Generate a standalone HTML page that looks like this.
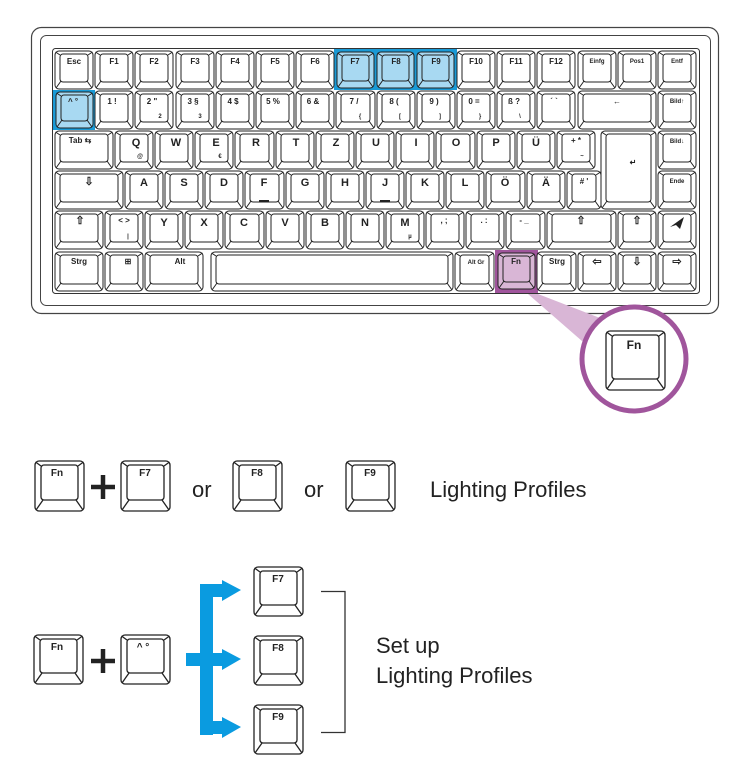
<!DOCTYPE html>
<html><head><meta charset="utf-8"><style>
html,body{margin:0;padding:0;background:#fff;}
svg{display:block}
.t{font-family:"Liberation Sans",sans-serif;font-weight:bold;fill:#222;text-anchor:middle}
.s{font-size:8px}.m{font-size:11px}.x{font-size:6px}
.n{font-family:"Liberation Sans",sans-serif;font-size:22px;fill:#222}
.kk rect,.kk line{stroke:#222;stroke-width:1}
.KK rect,.KK line{stroke:#222;stroke-width:1.3}
.o{width:calc(100% - 2px);height:calc(100% - 2px)}
.i{width:calc(100% - 12px);height:calc(100% - 12px)}
</style></head><body>
<svg width="744" height="759" viewBox="0 0 744 759" xmlns="http://www.w3.org/2000/svg">
<defs>
<symbol id="k" overflow="visible" class="kk">
<rect x="1" y="1" class="o" rx="4"/>
<rect x="6" y="4" class="i" rx="3"/>
<line x1="1.5" y1="2" x2="6" y2="5"/>
<svg x="100%" overflow="visible"><line x1="-1.5" y1="2" x2="-6" y2="5"/></svg>
<svg y="100%" overflow="visible"><line x1="2" y1="-2" x2="7" y2="-9"/></svg>
<svg x="100%" y="100%" overflow="visible"><line x1="-2" y1="-2" x2="-7" y2="-9"/></svg>
</symbol>
<symbol id="K" overflow="visible" class="KK">
<rect x="1" y="1" class="o" rx="4"/>
<rect x="7" y="5" class="i" style="width:calc(100% - 14px);height:calc(100% - 17px)" rx="3"/>
<line x1="1.5" y1="2" x2="7" y2="6"/>
<svg x="100%" overflow="visible"><line x1="-1.5" y1="2" x2="-7" y2="6"/></svg>
<svg y="100%" overflow="visible"><line x1="2" y1="-2" x2="9" y2="-12"/></svg>
<svg x="100%" y="100%" overflow="visible"><line x1="-2" y1="-2" x2="-9" y2="-12"/></svg>
</symbol>
</defs>
<!-- frame -->
<rect x="31.5" y="27.5" width="687" height="286" rx="10" fill="#fff" stroke="#444" stroke-width="1.2"/>
<rect x="40.5" y="35.5" width="670" height="270" rx="6" fill="none" stroke="#444" stroke-width="1"/>
<rect x="52.5" y="48.5" width="647" height="245" rx="3" fill="none" stroke="#333" stroke-width="1"/>
<!-- highlights -->
<rect x="334" y="49" width="123" height="41" fill="#1a9ad6"/>
<rect x="53" y="90" width="42" height="40" fill="#1a9ad6"/>
<rect x="495" y="250" width="43" height="43" fill="#a0559c"/>
<g fill="#fff">
<use href="#k" x="54" y="50" width="40" height="40"/><use href="#k" x="94" y="50" width="40" height="40"/><use href="#k" x="134" y="50" width="40" height="40"/><use href="#k" x="175" y="50" width="40" height="40"/><use href="#k" x="215" y="50" width="40" height="40"/><use href="#k" x="255" y="50" width="40" height="40"/><use href="#k" x="295" y="50" width="40" height="40"/>
<use href="#k" x="336" y="51" width="39" height="38" fill="#a8d9f2"/><use href="#k" x="376" y="51" width="39" height="38" fill="#a8d9f2"/><use href="#k" x="416" y="51" width="39" height="38" fill="#a8d9f2"/>
<use href="#k" x="456" y="50" width="40" height="40"/><use href="#k" x="496" y="50" width="40" height="40"/><use href="#k" x="536" y="50" width="40" height="40"/><use href="#k" x="577" y="50" width="40" height="40"/><use href="#k" x="617" y="50" width="40" height="40"/><use href="#k" x="657" y="50" width="40" height="40"/>
<use href="#k" x="55" y="91" width="39" height="38" fill="#a8d9f2"/>
<use href="#k" x="94" y="90" width="40" height="40"/><use href="#k" x="134" y="90" width="40" height="40"/><use href="#k" x="175" y="90" width="40" height="40"/><use href="#k" x="215" y="90" width="40" height="40"/><use href="#k" x="255" y="90" width="40" height="40"/><use href="#k" x="295" y="90" width="40" height="40"/><use href="#k" x="335" y="90" width="41" height="40"/><use href="#k" x="376" y="90" width="40" height="40"/><use href="#k" x="416" y="90" width="40" height="40"/><use href="#k" x="456" y="90" width="40" height="40"/><use href="#k" x="496" y="90" width="40" height="40"/><use href="#k" x="536" y="90" width="40" height="40"/><use href="#k" x="577" y="90" width="80" height="40"/><use href="#k" x="657" y="90" width="40" height="40"/>
<use href="#k" x="54" y="130" width="60" height="40"/><use href="#k" x="114" y="130" width="40" height="40"/><use href="#k" x="154" y="130" width="40" height="40"/><use href="#k" x="194" y="130" width="40" height="40"/><use href="#k" x="234" y="130" width="41" height="40"/><use href="#k" x="275" y="130" width="40" height="40"/><use href="#k" x="315" y="130" width="40" height="40"/><use href="#k" x="355" y="130" width="40" height="40"/><use href="#k" x="395" y="130" width="40" height="40"/><use href="#k" x="435" y="130" width="41" height="40"/><use href="#k" x="476" y="130" width="40" height="40"/><use href="#k" x="516" y="130" width="40" height="40"/><use href="#k" x="556" y="130" width="40" height="40"/><use href="#k" x="600" y="130" width="57" height="80"/><use href="#k" x="657" y="130" width="40" height="40"/>
<use href="#k" x="54" y="170" width="70" height="40"/><use href="#k" x="124" y="170" width="40" height="40"/><use href="#k" x="164" y="170" width="40" height="40"/><use href="#k" x="204" y="170" width="40" height="40"/><use href="#k" x="244" y="170" width="41" height="40"/><use href="#k" x="285" y="170" width="40" height="40"/><use href="#k" x="325" y="170" width="40" height="40"/><use href="#k" x="365" y="170" width="40" height="40"/><use href="#k" x="405" y="170" width="40" height="40"/><use href="#k" x="445" y="170" width="40" height="40"/><use href="#k" x="485" y="170" width="41" height="40"/><use href="#k" x="526" y="170" width="40" height="40"/><use href="#k" x="566" y="170" width="36" height="40"/><use href="#k" x="657" y="170" width="40" height="40"/>
<use href="#k" x="54" y="210" width="50" height="40"/><use href="#k" x="104" y="210" width="40" height="40"/><use href="#k" x="144" y="210" width="40" height="40"/><use href="#k" x="184" y="210" width="40" height="40"/><use href="#k" x="224" y="210" width="41" height="40"/><use href="#k" x="265" y="210" width="40" height="40"/><use href="#k" x="305" y="210" width="40" height="40"/><use href="#k" x="345" y="210" width="40" height="40"/><use href="#k" x="385" y="210" width="40" height="40"/><use href="#k" x="425" y="210" width="40" height="40"/><use href="#k" x="465" y="210" width="40" height="40"/><use href="#k" x="505" y="210" width="41" height="40"/><use href="#k" x="546" y="210" width="71" height="40"/><use href="#k" x="617" y="210" width="40" height="40"/><use href="#k" x="657" y="210" width="40" height="40"/>
<use href="#k" x="54" y="251" width="50" height="41"/><use href="#k" x="104" y="251" width="40" height="41"/><use href="#k" x="144" y="251" width="60" height="41"/><use href="#k" x="210" y="251" width="244" height="41"/><use href="#k" x="454" y="251" width="41" height="41"/>
<use href="#k" x="497" y="252" width="39" height="38" fill="#d9b6d6"/>
<use href="#k" x="536" y="251" width="41" height="41"/><use href="#k" x="577" y="251" width="40" height="41"/><use href="#k" x="617" y="251" width="40" height="41"/><use href="#k" x="657" y="251" width="40" height="41"/>
</g>
<g class="t s">
<text x="74" y="64">Esc</text><text x="114" y="64">F1</text><text x="154" y="64">F2</text><text x="195" y="64">F3</text><text x="235" y="64">F4</text><text x="275" y="64">F5</text><text x="315" y="64">F6</text><text x="355" y="64">F7</text><text x="396" y="64">F8</text><text x="436" y="64">F9</text><text x="476" y="64">F10</text><text x="516" y="64">F11</text><text x="556" y="64">F12</text>
<text x="597" y="63" class="x">Einfg</text><text x="637" y="63" class="x">Pos1</text><text x="677" y="63" class="x">Entf</text>
<text x="73" y="104">^ °</text><text x="112" y="104">1 !</text><text x="152" y="104">2 "</text><text x="193" y="104">3 §</text><text x="233" y="104">4 $</text><text x="273" y="104">5 %</text><text x="313" y="104">6 &amp;</text><text x="354" y="104">7 /</text><text x="394" y="104">8 (</text><text x="434" y="104">9 )</text><text x="474" y="104">0 =</text><text x="514" y="104">ß ?</text><text x="554" y="104">´ `</text><text x="617" y="104">←</text><text x="677" y="103" class="x">Bild↑</text>
<text x="160" y="118" class="x">2</text><text x="200" y="118" class="x">3</text><text x="360" y="118" class="x">{</text><text x="400" y="118" class="x">[</text><text x="440" y="118" class="x">]</text><text x="480" y="118" class="x">}</text><text x="520" y="118" class="x">\</text>
<text x="80" y="143">Tab ⇆</text><text x="677" y="143" class="x">Bild↓</text><text x="576" y="143">+ *</text><text x="582" y="158" class="x">~</text><text x="633" y="165">↵</text>
<text x="140" y="158" class="x">@</text><text x="220" y="158" class="x">€</text>
<text x="89" y="185" class="m">⇩</text><text x="584" y="184">#  '</text><text x="677" y="183" class="x">Ende</text>
<text x="80" y="224" class="m">⇧</text><text x="124" y="223">&lt; &gt;</text><text x="128" y="238" class="x">|</text><text x="410" y="238" class="x">µ</text><text x="444" y="223">, ;</text><text x="484" y="223">. :</text><text x="524" y="223">- _</text><text x="581" y="224" class="m">⇧</text><text x="637" y="224" class="m">⇧</text>
<text x="79" y="264">Strg</text><text x="128" y="264">⊞</text><text x="180" y="264">Alt</text><text x="476" y="264" class="x">Alt Gr</text><text x="516" y="264">Fn</text><text x="557" y="264">Strg</text><text x="597" y="265" class="m">⇦</text><text x="637" y="265" class="m">⇩</text><text x="677" y="265" class="m">⇨</text>
</g>
<path d="M670 227l14-10-4 12-4-4z" fill="#222"/>
<g class="t m">
<text x="136" y="146">Q</text><text x="176" y="146">W</text><text x="216" y="146">E</text><text x="256" y="146">R</text><text x="296" y="146">T</text><text x="336" y="146">Z</text><text x="376" y="146">U</text><text x="416" y="146">I</text><text x="456" y="146">O</text><text x="496" y="146">P</text><text x="536" y="146">Ü</text>
<text x="144" y="186">A</text><text x="184" y="186">S</text><text x="224" y="186">D</text><text x="264" y="186">F</text><text x="305" y="186">G</text><text x="345" y="186">H</text><text x="385" y="186">J</text><text x="425" y="186">K</text><text x="465" y="186">L</text><text x="505" y="186">Ö</text><text x="546" y="186">Ä</text>
<text x="164" y="226">Y</text><text x="204" y="226">X</text><text x="244" y="226">C</text><text x="285" y="226">V</text><text x="325" y="226">B</text><text x="365" y="226">N</text><text x="405" y="226">M</text>
</g>
<path d="M259 201h10M380 201h10" stroke="#222" stroke-width="2"/>
<!-- callout -->
<polygon points="528,294 538,294 600,318 590,348" fill="#d9b6d6"/>
<circle cx="634" cy="359" r="52" fill="#fff" stroke="#a0559c" stroke-width="5"/>
<use href="#K" x="605" y="330" width="61" height="61" fill="#fff"/>
<text x="634" y="349" class="t" font-size="12">Fn</text>
<g fill="#fff">
<use href="#K" x="34" y="460" width="51" height="52"/><use href="#K" x="120" y="460" width="51" height="52"/><use href="#K" x="232" y="460" width="51" height="52"/><use href="#K" x="345" y="460" width="51" height="52"/>
<use href="#K" x="33" y="634" width="51" height="51"/><use href="#K" x="120" y="634" width="51" height="51"/>
<use href="#K" x="253" y="566" width="51" height="51"/><use href="#K" x="253" y="635" width="51" height="51"/><use href="#K" x="253" y="704" width="51" height="51"/>
</g>
<g class="t" font-size="10">
<text x="57" y="476">Fn</text><text x="145" y="476">F7</text><text x="257" y="476">F8</text><text x="370" y="476">F9</text>
<text x="57" y="650">Fn</text><text x="143" y="650">^  °</text><text x="278" y="582">F7</text><text x="278" y="651">F8</text><text x="278" y="720">F9</text>
</g>
<path d="M91 487h24M103 475v24M91 661h24M103 649v24" stroke="#222" stroke-width="4.5"/>
<text x="192" y="497" class="n">or</text><text x="304" y="497" class="n">or</text>
<text x="430" y="497" class="n">Lighting Profiles</text>
<g fill="#0a9be0">
<rect x="186" y="653" width="27" height="13"/>
<rect x="200" y="584" width="13" height="151"/>
<rect x="200" y="584" width="23" height="13"/><polygon points="222,580 241,590 222,601"/>
<rect x="200" y="653" width="23" height="13"/><polygon points="222,649 241,659 222,670"/>
<rect x="200" y="721" width="23" height="13"/><polygon points="222,717 241,727 222,738"/>
</g>
<path d="M321 591.5h24v141h-24" fill="none" stroke="#333" stroke-width="1.3"/>
<text x="376" y="653" class="n">Set up</text>
<text x="376" y="683" class="n">Lighting Profiles</text>
</svg>
</body></html>
